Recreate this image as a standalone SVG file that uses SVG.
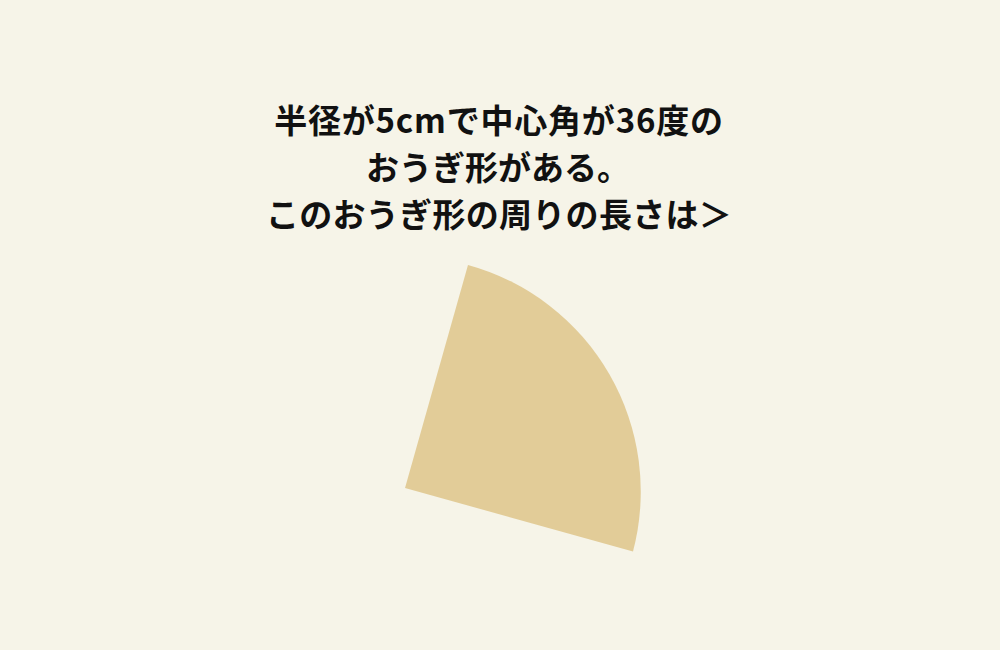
<svg xmlns="http://www.w3.org/2000/svg" width="1000" height="650" viewBox="0 0 1000 650">
<style>
.q{font-family:"Noto Sans CJK JP","Noto Sans",sans-serif;font-weight:700;font-size:33px;fill:#111;text-anchor:middle}
</style>
<rect width="1000" height="650" fill="#f6f4e8"/>
<g id="question">
<text class="q" x="499" y="133" letter-spacing="0.8">半径が5cmで中心角が36度の</text>
<text class="q" x="498" y="180">おうぎ形がある。</text>
<text class="q" x="499" y="227" letter-spacing="0.3">このおうぎ形の周りの長さは＞</text>
</g>
<g id="sector">
<path d="M405 488 L468 265 A235 235 0 0 1 633 551.5 Z" fill="#e2cc98"/>
</g>
</svg>
